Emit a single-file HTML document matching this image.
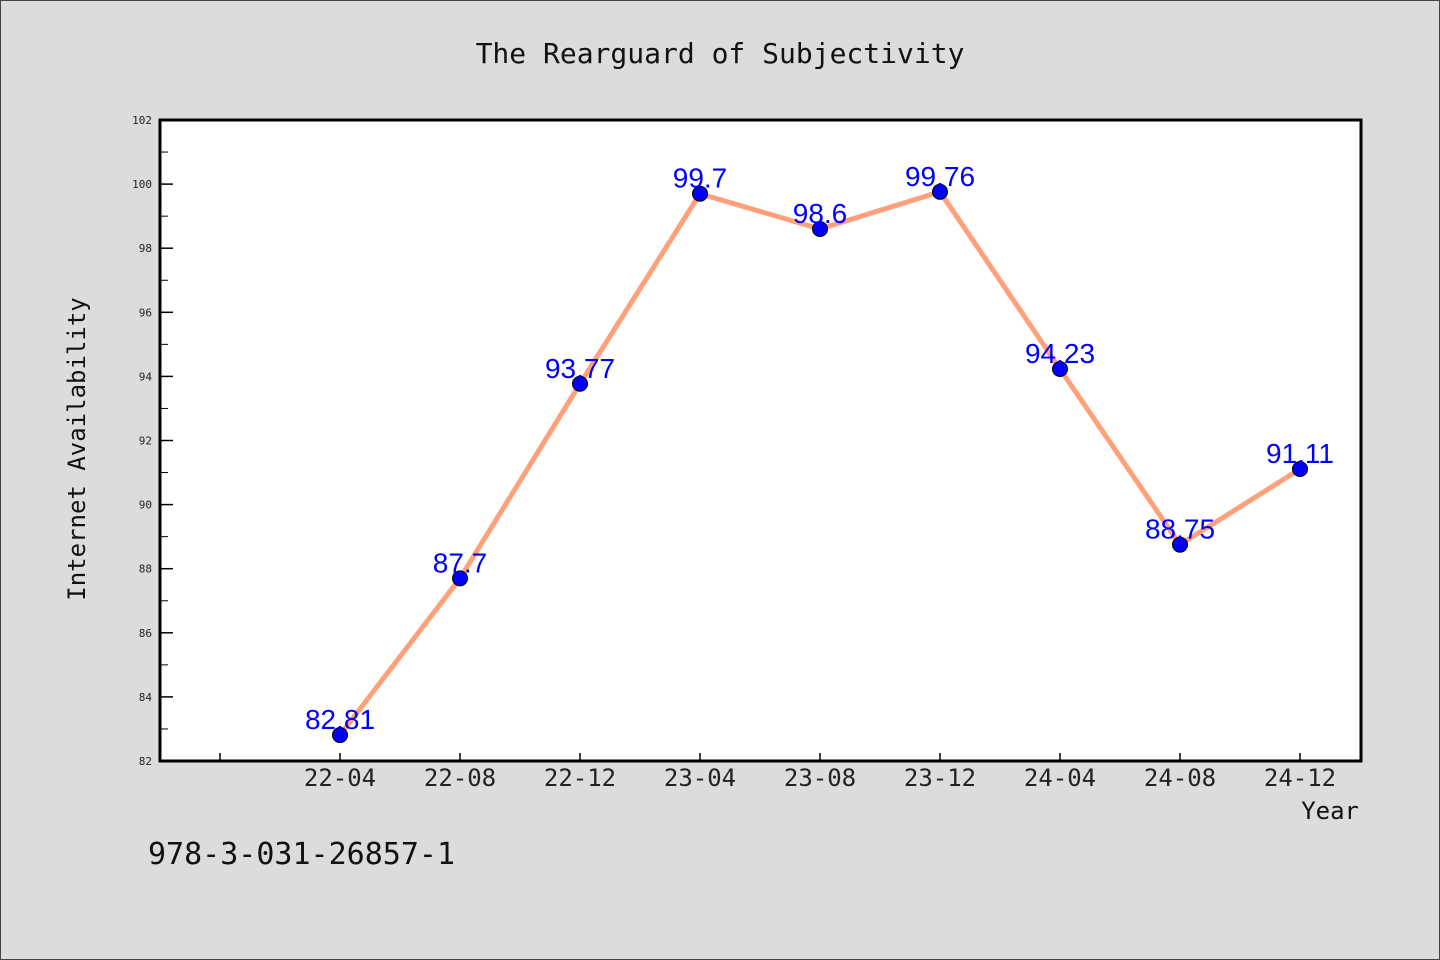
<!DOCTYPE html>
<html><head><meta charset="utf-8"><style>
html,body{margin:0;padding:0;background:#dcdcdc;}
svg{display:block;font-family:"DejaVu Sans Mono","Liberation Mono",monospace;}
</style></head><body>
<svg width="1440" height="960">
<rect x="0.5" y="0.5" width="1439" height="959" fill="#dcdcdc" stroke="#444"/>
<text x="720" y="63" text-anchor="middle" font-size="28" fill="#111">The Rearguard of Subjectivity</text>
<rect x="160" y="120" width="1201" height="641" fill="#fff" stroke="#000" stroke-width="3"/>
<g id="yaxis"></g>
<g id="xaxis"></g>
<text transform="translate(85,449) rotate(-90)" text-anchor="middle" font-size="24" fill="#111">Internet Availability</text>
<text x="1359" y="819" text-anchor="end" font-size="24" fill="#111">Year</text>
<text x="148" y="864" font-size="30" fill="#111">978-3-031-26857-1</text>
<g id="series"></g>
</svg>
<script>
const categories=["22-04","22-08","22-12","23-04","23-08","23-12","24-04","24-08","24-12"];
const values=[82.81,87.7,93.77,99.7,98.6,99.76,94.23,88.75,91.11];
const labels=["82.81","87.7","93.77","99.7","98.6","99.76","94.23","88.75","91.11"];
const yTicks=[82,84,86,88,90,92,94,96,98,100,102];
const NS="http://www.w3.org/2000/svg";
const yMin=82,yMax=102,top_=120,bot=761;
function y(v){return bot-(v-yMin)/(yMax-yMin)*(bot-top_);}
function x(i){return 340+120*i;}
function mk(t,a,p){const e=document.createElementNS(NS,t);for(const k in a)e.setAttribute(k,a[k]);p.appendChild(e);return e;}
const ya=document.getElementById('yaxis');
yTicks.forEach((v,i)=>{
 const l=mk('line',{x1:160,x2:173,y1:y(v),y2:y(v),stroke:'#000','stroke-width':1.5},ya);
 
 
 const t=mk('text',{x:152,y:y(v)+4,'text-anchor':'end','font-size':11,fill:'#222'},ya);
 t.textContent=v;
 
 
 if(i<yTicks.length-1){
  const m=mk('line',{x1:160,x2:168,y1:y(v+1),y2:y(v+1),stroke:'#000','stroke-width':1},ya);
  
  
 }
});
const xa=document.getElementById('xaxis');
for(let i=-1;i<categories.length;i++){
 const l=mk('line',{x1:x(i),x2:x(i),y1:761,y2:753,stroke:'#000','stroke-width':1.5},xa);
 
 
 if(i>=0){
  const t=mk('text',{x:x(i),y:786,'text-anchor':'middle','font-size':24,fill:'#222'},xa);
  t.textContent=categories[i];
  
  
 }
}
const s=document.getElementById('series');
const pl=mk('polyline',{points:values.map((v,i)=>x(i)+','+y(v)).join(' '),fill:'none',stroke:'#ffa07a','stroke-width':5,'stroke-linejoin':'round'},s);


values.forEach((v,i)=>{
 const c=mk('circle',{cx:x(i),cy:y(v),r:7.5,fill:'#0000ff',stroke:'#000','stroke-width':1},s);
 
 
});
values.forEach((v,i)=>{
 const t=mk('text',{x:x(i),y:y(v)-6,'text-anchor':'middle','font-size':28,fill:'#0000ff','font-family':'"Liberation Sans",sans-serif'},s);
 t.textContent=labels[i];
 
 
});
</script>
</body></html>
